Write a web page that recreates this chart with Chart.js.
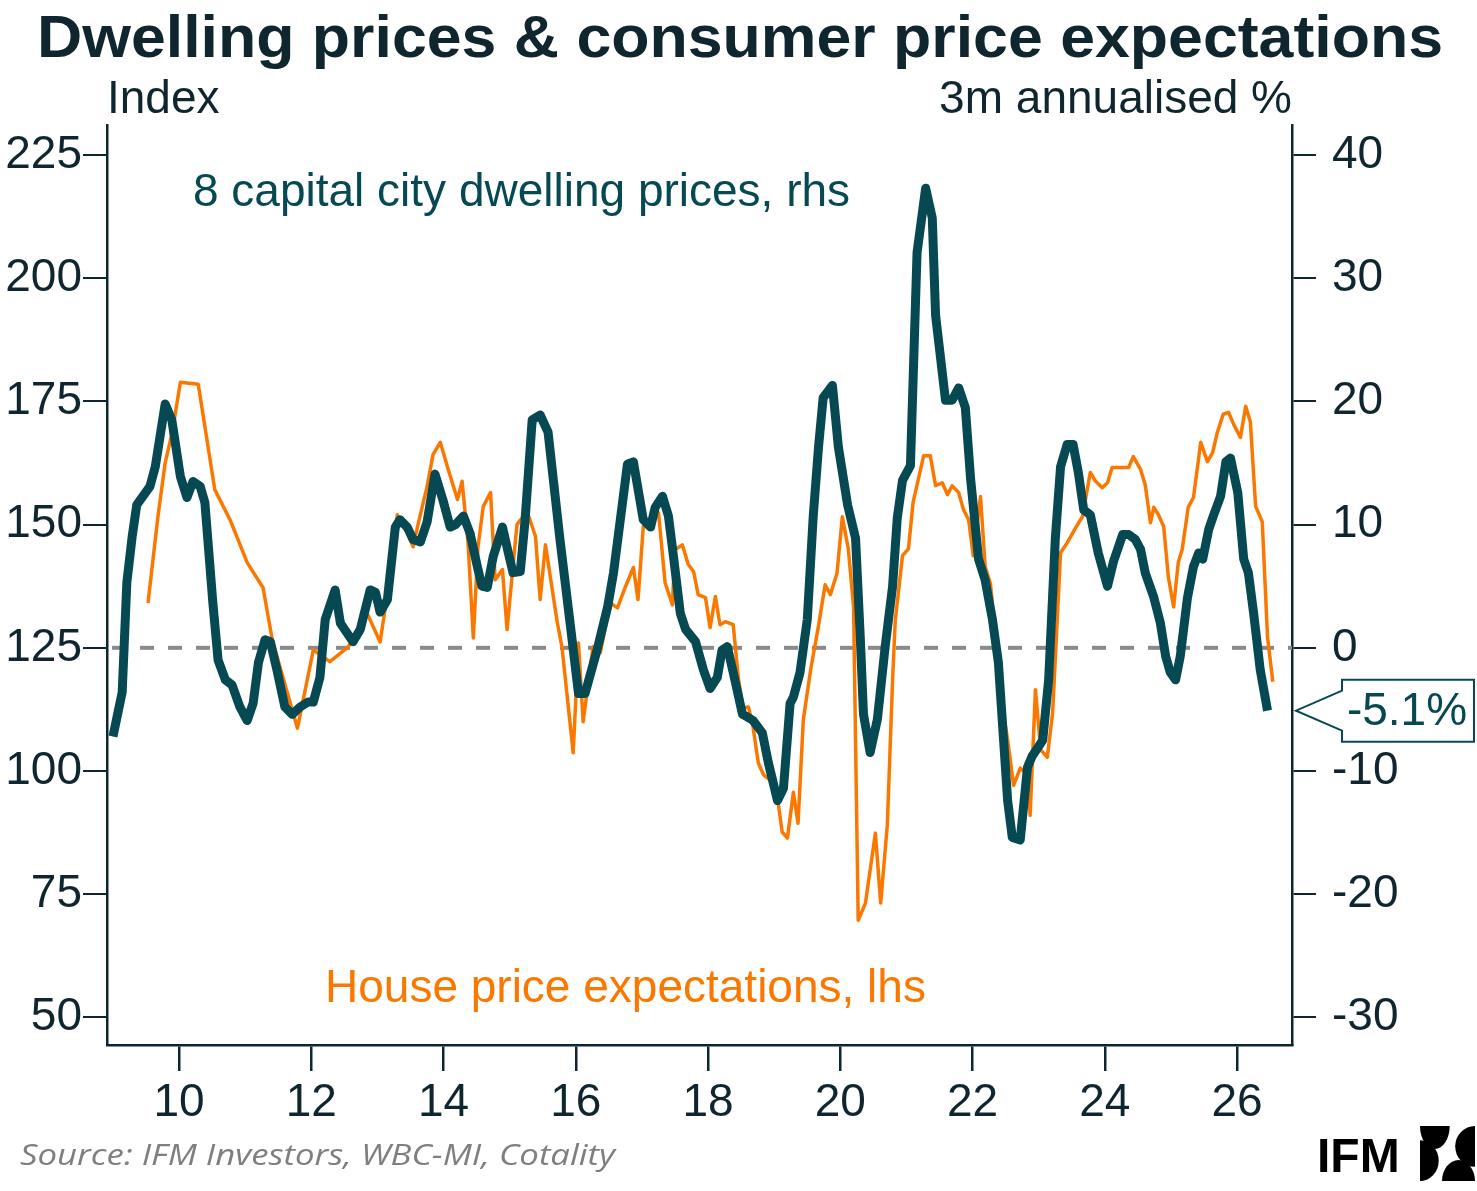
<!DOCTYPE html>
<html><head><meta charset="utf-8">
<script src="https://cdn.jsdelivr.net/npm/chart.js@4.4.0/dist/chart.umd.min.js"></script>
<style>html,body{margin:0;padding:0;background:#fff;}#wrap{width:1477px;height:1191px;}</style>
</head><body><div id="wrap"><canvas id="c" width="1477" height="1191"></canvas></div>
<script>
// 8 capital city dwelling prices, 3m annualised %, rhs
const dwellDates = [2009.00,2009.14,2009.21,2009.29,2009.36,2009.56,2009.64,2009.79,2009.89,2010.02,2010.12,2010.21,2010.32,2010.39,2010.51,2010.59,2010.70,2010.80,2010.92,2011.03,2011.12,2011.20,2011.30,2011.38,2011.48,2011.60,2011.71,2011.83,2011.95,2012.03,2012.13,2012.21,2012.36,2012.44,2012.63,2012.74,2012.89,2012.97,2013.04,2013.15,2013.27,2013.34,2013.45,2013.54,2013.65,2013.75,2013.87,2013.99,2014.10,2014.18,2014.30,2014.40,2014.51,2014.58,2014.66,2014.75,2014.89,2014.98,2015.05,2015.16,2015.23,2015.34,2015.46,2015.58,2015.76,2015.92,2016.04,2016.14,2016.32,2016.48,2016.57,2016.78,2016.87,2017.02,2017.13,2017.20,2017.31,2017.40,2017.47,2017.58,2017.66,2017.81,2017.93,2018.03,2018.14,2018.21,2018.29,2018.38,2018.52,2018.59,2018.68,2018.82,2018.91,2019.05,2019.14,2019.24,2019.29,2019.39,2019.50,2019.59,2019.67,2019.74,2019.88,2019.97,2020.11,2020.23,2020.30,2020.35,2020.45,2020.56,2020.68,2020.79,2020.86,2020.94,2021.06,2021.16,2021.29,2021.39,2021.44,2021.59,2021.69,2021.79,2021.89,2021.97,2022.09,2022.19,2022.30,2022.39,2022.53,2022.60,2022.72,2022.83,2022.90,2023.06,2023.15,2023.25,2023.33,2023.43,2023.52,2023.60,2023.68,2023.78,2023.90,2024.04,2024.13,2024.27,2024.36,2024.46,2024.54,2024.61,2024.74,2024.84,2024.92,2024.99,2025.07,2025.14,2025.25,2025.34,2025.42,2025.48,2025.57,2025.64,2025.75,2025.83,2025.90,2026.01,2026.10,2026.17,2026.25,2026.35,2026.46];
const dwellValues = [-7.2,-3.6,5.3,9.0,11.6,13.1,14.7,19.8,18.5,13.9,12.2,13.5,13.1,11.8,3.7,-1.0,-2.6,-3.0,-4.8,-5.9,-4.5,-1.2,0.65,0.5,-1.8,-4.8,-5.4,-4.8,-4.4,-4.4,-2.4,2.3,4.7,2.0,0.5,1.5,4.7,4.5,2.9,3.9,9.8,10.4,9.8,8.8,8.6,10.2,14.1,12.0,9.8,10.0,10.7,9.3,6.6,5.0,4.9,7.4,9.8,7.7,6.1,6.2,10.2,18.5,18.9,17.5,8.8,1.7,-3.7,-3.7,-0.2,3.3,6.1,14.9,15.1,10.4,9.8,11.4,12.3,10.7,7.7,2.8,1.5,0.5,-1.8,-3.3,-2.4,-0.2,0.1,-2.0,-5.4,-5.6,-5.9,-6.9,-9.3,-12.4,-11.4,-4.5,-4.0,-2.0,2.3,10.7,16.3,20.3,21.3,16.3,11.6,8.9,1.0,-5.4,-8.5,-5.8,0.2,5.0,10.5,13.6,14.8,32.1,37.3,34.9,27.0,20.1,20.1,21.1,19.5,13.7,7.2,5.5,2.3,-1.2,-12.4,-15.4,-15.6,-9.7,-8.8,-7.5,-2.6,8.8,14.7,16.5,16.5,14.2,11.2,10.8,7.7,5.0,7.0,9.2,9.2,8.8,8.0,6.1,4.1,2.0,-0.7,-2.0,-2.6,-0.7,4.1,6.6,7.7,7.2,9.6,10.7,12.3,15.1,15.4,12.6,7.2,6.1,2.8,-1.8,-5.1];

// House price expectations index, lhs
const expectDates = [2009.53,2009.68,2009.79,2009.89,2010.02,2010.29,2010.54,2010.77,2011.03,2011.27,2011.41,2011.79,2012.03,2012.28,2012.56,2012.84,2013.04,2013.12,2013.30,2013.34,2013.45,2013.54,2013.62,2013.75,2013.84,2013.95,2014.07,2014.21,2014.28,2014.37,2014.45,2014.52,2014.60,2014.71,2014.78,2014.89,2014.96,2015.04,2015.11,2015.20,2015.28,2015.39,2015.46,2015.54,2015.72,2015.79,2015.96,2016.04,2016.11,2016.26,2016.37,2016.52,2016.63,2016.75,2016.87,2016.94,2017.02,2017.13,2017.25,2017.35,2017.46,2017.50,2017.61,2017.70,2017.78,2017.85,2017.96,2018.03,2018.11,2018.18,2018.26,2018.38,2018.46,2018.53,2018.61,2018.68,2018.76,2018.84,2018.99,2019.06,2019.12,2019.20,2019.29,2019.36,2019.44,2019.55,2019.67,2019.77,2019.85,2019.95,2020.03,2020.12,2020.20,2020.27,2020.38,2020.53,2020.61,2020.71,2020.79,2020.83,2020.94,2021.03,2021.10,2021.26,2021.36,2021.44,2021.54,2021.62,2021.69,2021.79,2021.86,2021.94,2022.01,2022.12,2022.19,2022.27,2022.34,2022.42,2022.53,2022.62,2022.72,2022.83,2022.87,2022.95,2023.03,2023.13,2023.21,2023.33,2023.43,2023.56,2023.66,2023.78,2023.86,2023.96,2024.04,2024.11,2024.21,2024.36,2024.43,2024.54,2024.61,2024.69,2024.74,2024.81,2024.89,2024.96,2025.04,2025.11,2025.17,2025.26,2025.34,2025.45,2025.55,2025.63,2025.70,2025.79,2025.87,2025.95,2026.05,2026.13,2026.20,2026.28,2026.38,2026.46,2026.54];
const expectValues = [134.1,151.6,162.6,168.3,178.9,178.5,157.1,151.0,142.3,137.2,126.6,108.7,124.6,122.2,125.2,132.1,126.2,133.3,152.0,150.6,148.4,145.5,150.4,157.7,164.2,166.7,161.2,155.1,158.8,146.3,127.0,145.5,153.7,156.5,138.8,140.9,128.7,140.2,150.0,151.6,152.0,147.6,134.8,145.9,130.1,125.2,103.7,126.0,110.0,125.2,124.0,134.1,133.1,137.4,141.3,134.8,149.6,149.6,152.4,138.2,133.7,144.9,145.9,141.9,140.5,135.8,135.2,129.1,135.4,129.7,130.3,129.7,118.5,112.8,113.0,108.9,101.6,99.2,97.6,93.5,87.6,86.4,95.7,89.4,110.4,120.5,129.5,137.8,135.8,140.2,151.6,145.1,133.3,69.7,73.2,87.4,73.2,89.0,118.5,130.5,143.7,145.1,154.5,164.0,164.0,157.9,158.5,156.1,157.9,156.5,153.1,151.0,143.7,155.7,141.5,138.0,128.0,116.0,106.3,97.1,100.6,99.2,91.0,116.5,104.3,102.8,111.8,144.3,146.3,149.4,151.6,160.6,158.8,157.5,158.5,161.6,161.6,161.6,163.8,161.2,158.1,150.4,153.5,152.0,149.6,139.4,133.3,142.3,145.0,153.5,155.5,166.7,162.8,164.6,168.7,172.4,172.8,170.3,167.7,174.0,170.9,153.7,150.6,127.2,118.1];

const xTicks = [2010,2012,2014,2016,2018,2020,2022,2024,2026];
const leftTicks = [50,75,100,125,150,175,200,225];
const rightTicks = [-30,-20,-10,0,10,20,30,40];
const latestLabel = '-5.1%';

const TEAL = '#064953';
const ORANGE = '#fb7800';
const INK = '#10262e';
const FONT = '"Liberation Sans", Arial, sans-serif';

const pts = (xs, ys) => xs.map((x, i) => ({x, y: ys[i]}));

const decor = {
  id: 'decor',
  beforeDatasetsDraw(chart) {
    const {ctx, chartArea: a, scales} = chart;
    const y0 = scales.yR.getPixelForValue(0);
    ctx.save();
    ctx.strokeStyle = '#8a8a8a';
    ctx.lineWidth = 4;
    ctx.setLineDash([14, 14]);
    ctx.beginPath();
    ctx.moveTo(a.left + 5, y0);
    ctx.lineTo(a.right, y0);
    ctx.stroke();
    ctx.restore();
  },
  afterDraw(chart) {
    const {ctx, chartArea: a, scales} = chart;
    ctx.save();
    // title
    ctx.fillStyle = INK;
    ctx.font = 'bold 60px ' + FONT;
    ctx.textBaseline = 'alphabetic';
    const title = 'Dwelling prices & consumer price expectations';
    const tw = ctx.measureText(title).width;
    ctx.save();
    ctx.translate(740, 57);
    ctx.scale(1406 / tw, 1);
    ctx.textAlign = 'center';
    ctx.fillText(title, 0, 0);
    ctx.restore();
    // axis titles
    ctx.font = '46px ' + FONT;
    ctx.textAlign = 'left';
    ctx.fillText('Index', a.left, 113);
    ctx.textAlign = 'right';
    ctx.fillText('3m annualised %', a.right, 113);
    // series annotations
    ctx.textAlign = 'left';
    ctx.fillStyle = TEAL;
    ctx.fillText('8 capital city dwelling prices, rhs', 193, 206);
    ctx.fillStyle = ORANGE;
    ctx.fillText('House price expectations, lhs', 325, 1002);
    // latest value callout
    const last = dwellValues[dwellValues.length - 1];
    const yl = scales.yR.getPixelForValue(last);
    const bx = a.right + 50, bw = 132, bh = 62, tip = a.right + 4;
    ctx.beginPath();
    ctx.moveTo(bx, yl - 20);
    ctx.lineTo(bx, yl - bh / 2);
    ctx.lineTo(bx + bw, yl - bh / 2);
    ctx.lineTo(bx + bw, yl + bh / 2);
    ctx.lineTo(bx, yl + bh / 2);
    ctx.lineTo(bx, yl + 20);
    ctx.lineTo(tip, yl);
    ctx.closePath();
    ctx.fillStyle = '#fff';
    ctx.fill();
    ctx.strokeStyle = TEAL;
    ctx.lineWidth = 2;
    ctx.stroke();
    ctx.fillStyle = TEAL;
    ctx.textAlign = 'center';
    ctx.textBaseline = 'middle';
    ctx.font = '46px ' + FONT;
    ctx.fillText(latestLabel, bx + bw / 2 - 1, yl + 2);
    // source
    ctx.textBaseline = 'alphabetic';
    ctx.textAlign = 'left';
    ctx.fillStyle = '#7f7f7f';
    ctx.font = 'italic 30px "Open Sans", "Noto Sans", sans-serif';
    const src = 'Source: IFM Investors, WBC-MI, Cotality';
    const sw = ctx.measureText(src).width;
    ctx.save();
    ctx.translate(20, 1165);
    ctx.scale(595 / sw, 1);
    ctx.fillText(src, 0, 0);
    ctx.restore();
    // logo
    ctx.fillStyle = '#000';
    ctx.font = 'bold 48px ' + FONT;
    ctx.fillText('IFM', 1317, 1172);
    const lx = 1420, ly = 1126, s = 55;
    ctx.save();
    ctx.beginPath(); ctx.rect(lx, ly, s, s); ctx.clip();
    ctx.beginPath(); ctx.ellipse(lx + s * 0.27, ly, s * 0.27, s * 0.42, 0, 0, Math.PI); ctx.fill();
    ctx.beginPath(); ctx.ellipse(lx + s, ly + s * 0.37, s * 0.36, s * 0.37, 0, Math.PI / 2, Math.PI * 1.5); ctx.fill();
    ctx.beginPath(); ctx.ellipse(lx + s * 0.7, ly + s, s * 0.3, s * 0.38, 0, Math.PI, Math.PI * 2); ctx.fill();
    ctx.beginPath(); ctx.ellipse(lx, ly + s * 0.63, s * 0.34, s * 0.37, 0, -Math.PI / 2, Math.PI / 2); ctx.fill();
    ctx.restore();
    ctx.restore();
  }
};

const tickFont = {family: FONT, size: 46};

new Chart(document.getElementById('c'), {
  type: 'line',
  data: {
    datasets: [
      {label: '8 capital city dwelling prices', data: pts(dwellDates, dwellValues), yAxisID: 'yR',
       borderColor: TEAL, borderWidth: 9, pointRadius: 0, tension: 0, borderJoinStyle: 'round', fill: false},
      {label: 'House price expectations', data: pts(expectDates, expectValues), yAxisID: 'yL',
       borderColor: ORANGE, borderWidth: 3.5, pointRadius: 0, tension: 0, borderJoinStyle: 'round', fill: false}
    ]
  },
  options: {
    responsive: false,
    devicePixelRatio: 1,
    animation: false,
    layout: {padding: {top: 125, left: 0, right: 0, bottom: 0}},
    plugins: {legend: {display: false}, tooltip: {enabled: false}, title: {display: false}},
    scales: {
      x: {
        type: 'linear', position: 'bottom', min: 2008.91, max: 2026.83,
        afterBuildTicks: s => { s.ticks = xTicks.map(v => ({value: v})); },
        afterFit: s => { s.height = 146; },
        grid: {drawOnChartArea: false, drawTicks: true, tickLength: 26, color: INK, lineWidth: 2.5},
        border: {display: true, color: INK, width: 2.5},
        ticks: {autoSkip: false, maxRotation: 0, color: INK, font: tickFont, padding: 5,
                callback: v => String(v).slice(2)}
      },
      yL: {
        type: 'linear', position: 'left', min: 44.4, max: 231.1,
        afterBuildTicks: s => { s.ticks = leftTicks.map(v => ({value: v})); },
        afterFit: s => { s.width = 107; },
        grid: {drawOnChartArea: false, drawTicks: true, tickLength: 24, color: INK, lineWidth: 2},
        border: {display: true, color: INK, width: 2.5},
        ticks: {autoSkip: false, color: INK, font: tickFont, padding: 1}
      },
      yR: {
        type: 'linear', position: 'right', min: -32.24, max: 42.44,
        afterBuildTicks: s => { s.ticks = rightTicks.map(v => ({value: v})); },
        afterFit: s => { s.width = 185; },
        grid: {drawOnChartArea: false, drawTicks: true, tickLength: 24, color: INK, lineWidth: 2},
        border: {display: true, color: INK, width: 2.5},
        ticks: {autoSkip: false, color: INK, font: tickFont, padding: 16}
      }
    }
  },
  plugins: [decor]
});
</script>
</body></html>
